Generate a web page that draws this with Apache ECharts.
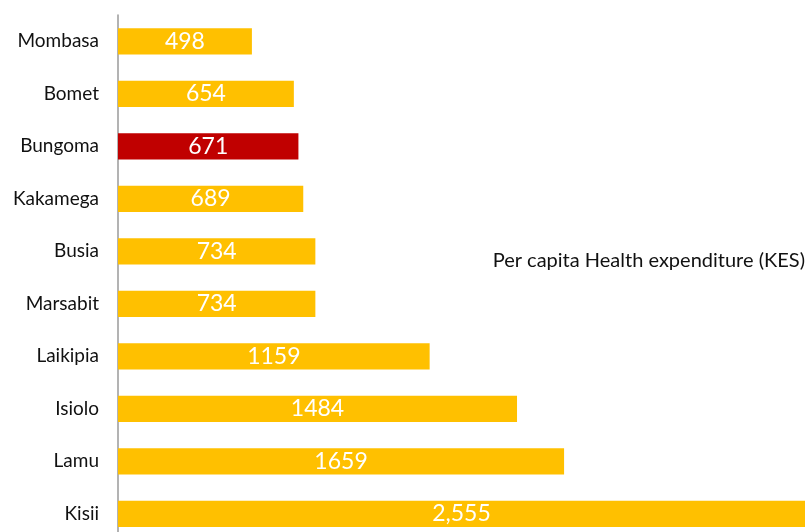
<!DOCTYPE html>
<html>
<head>
<meta charset="utf-8">
<script src="https://cdn.jsdelivr.net/npm/echarts@6/dist/echarts.min.js"></script>
<style>
  html, body { margin: 0; padding: 0; background: #fff; }
  #chart { width: 808px; height: 532px; }
</style>
</head>
<body>
<div id="chart"></div>
<script>
// Counties, top to bottom
const counties = ['Mombasa', 'Bomet', 'Bungoma', 'Kakamega', 'Busia', 'Marsabit', 'Laikipia', 'Isiolo', 'Lamu', 'Kisii'];
// Per capita health expenditure (KES)
const expenditure = [498, 654, 671, 689, 734, 734, 1159, 1484, 1659, 2555];
// Text shown on each bar
const valueLabels = ['498', '654', '671', '689', '734', '734', '1159', '1484', '1659', '2,555'];
// County picked out in red
const highlighted = 'Bungoma';

const FONT = 'Lato, "Open Sans", sans-serif';

const chart = echarts.init(document.getElementById('chart'), null, { renderer: 'canvas' });

chart.setOption({
  animation: false,
  // the plot runs a little past the bottom edge, so the last band is clipped
  grid: { left: 118, right: 3, top: 15, height: 525, containLabel: false, outerBoundsMode: 'none' },
  xAxis: {
    type: 'value',
    min: 0,
    max: 2555,
    show: false
  },
  yAxis: {
    type: 'category',
    data: counties,
    inverse: true,
    axisLine: { show: true, lineStyle: { color: '#9a9a9a', width: 1.5 } },
    axisTick: { show: false },
    axisLabel: { color: '#111', fontSize: 19, fontFamily: FONT, margin: 19 },
    splitLine: { show: false }
  },
  graphic: [{
    type: 'text',
    right: 3,
    top: 251,
    style: {
      text: 'Per capita Health expenditure (KES)',
      fill: '#111',
      font: '20px ' + FONT
    }
  }],
  series: [{
    type: 'bar',
    barWidth: '50%',
    data: expenditure.map((v, i) => ({
      value: v,
      itemStyle: { color: counties[i] === highlighted ? '#C00000' : '#FFC000' }
    })),
    label: {
      show: true,
      position: 'inside',
      color: '#fff',
      fontSize: 23,
      fontFamily: FONT,
      formatter: p => valueLabels[p.dataIndex]
    }
  }]
});
</script>
</body>
</html>
